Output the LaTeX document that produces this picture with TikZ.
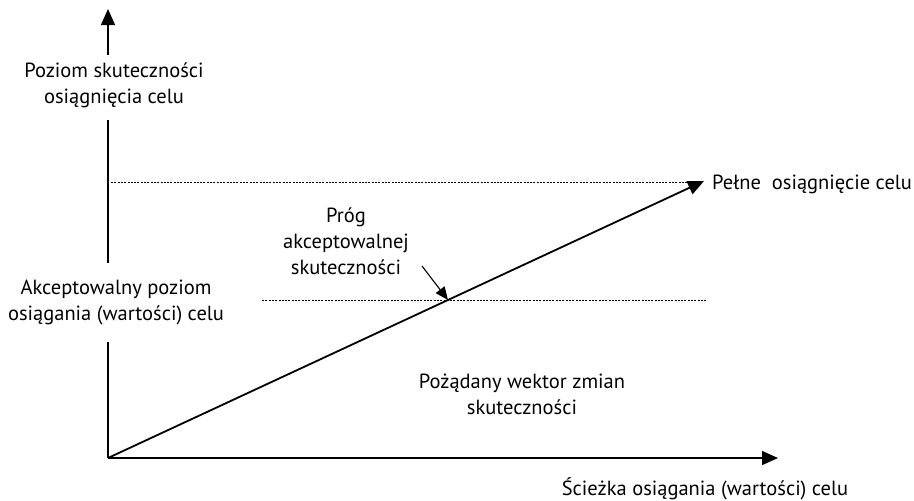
\documentclass[tikz,border=0pt]{standalone}
\usepackage{fontspec}
\setmainfont{PT Sans}
\usetikzlibrary{arrows.meta}
\begin{document}
\begin{tikzpicture}[x=1pt,y=-1pt,
  lbl/.style={font=\fontsize{20.5}{26}\selectfont, align=center, inner sep=0pt},
  axis/.style={line width=1.4pt},
  bigtip/.style={-{Triangle[length=16pt,width=14pt]}},
  dots/.style={line width=0.8pt, dash pattern=on 2pt off 1.3pt}]
\useasboundingbox (0,0) rectangle (914,501);
\coordinate (O) at (108,458);
\coordinate (ytop) at (108,9);
\coordinate (xend) at (778,458);
\coordinate (full) at (704,181);
\node[lbl] (ylab) at (114,85) {Poziom skuteczności\\osiągnięcia celu};
\node[lbl] (acc) at (116,302) {Akceptowalny poziom\\osiągania (wartości) celu};
\node[lbl, anchor=west] (fulllab) at (712,184) {Pełne\ \ osiągnięcie celu};
\node[lbl] (xlab) at (705,489) {Ścieżka osiągania (wartości) celu};
\node[lbl] (prog) at (346,241) {Próg\\akceptowalnej\\skuteczności};
\node[lbl] (vec) at (522,394) {Pożądany wektor zmian\\skuteczności};
\coordinate (a1) at (108,55);
\coordinate (a2) at (108,120);
\coordinate (a3) at (108,263);
\coordinate (a4) at (108,342);
\coordinate (d1s) at (111,182);
\coordinate (d1e) at (697,182);
\coordinate (d2s) at (262,300);
\coordinate (d2e) at (706,300);
\coordinate (ps) at (422,266);
\coordinate (pe) at (448,300);
% axes
\draw[axis, bigtip] (a1) -- (ytop);
\draw[axis] (a2) -- (a3);
\draw[axis] (a4) -- (O);
\draw[axis, bigtip] (O) -- (xend);
% dotted lines
\draw[dots] (d1s) -- (d1e);
\draw[dots] (d2s) -- (d2e);
% diagonal
\draw[line width=1.8pt, bigtip] (O) -- (full);
% small arrow
\draw[line width=1.1pt, -{Triangle[length=13pt,width=11pt]}] (ps) -- (pe);
\end{tikzpicture}
\end{document}
